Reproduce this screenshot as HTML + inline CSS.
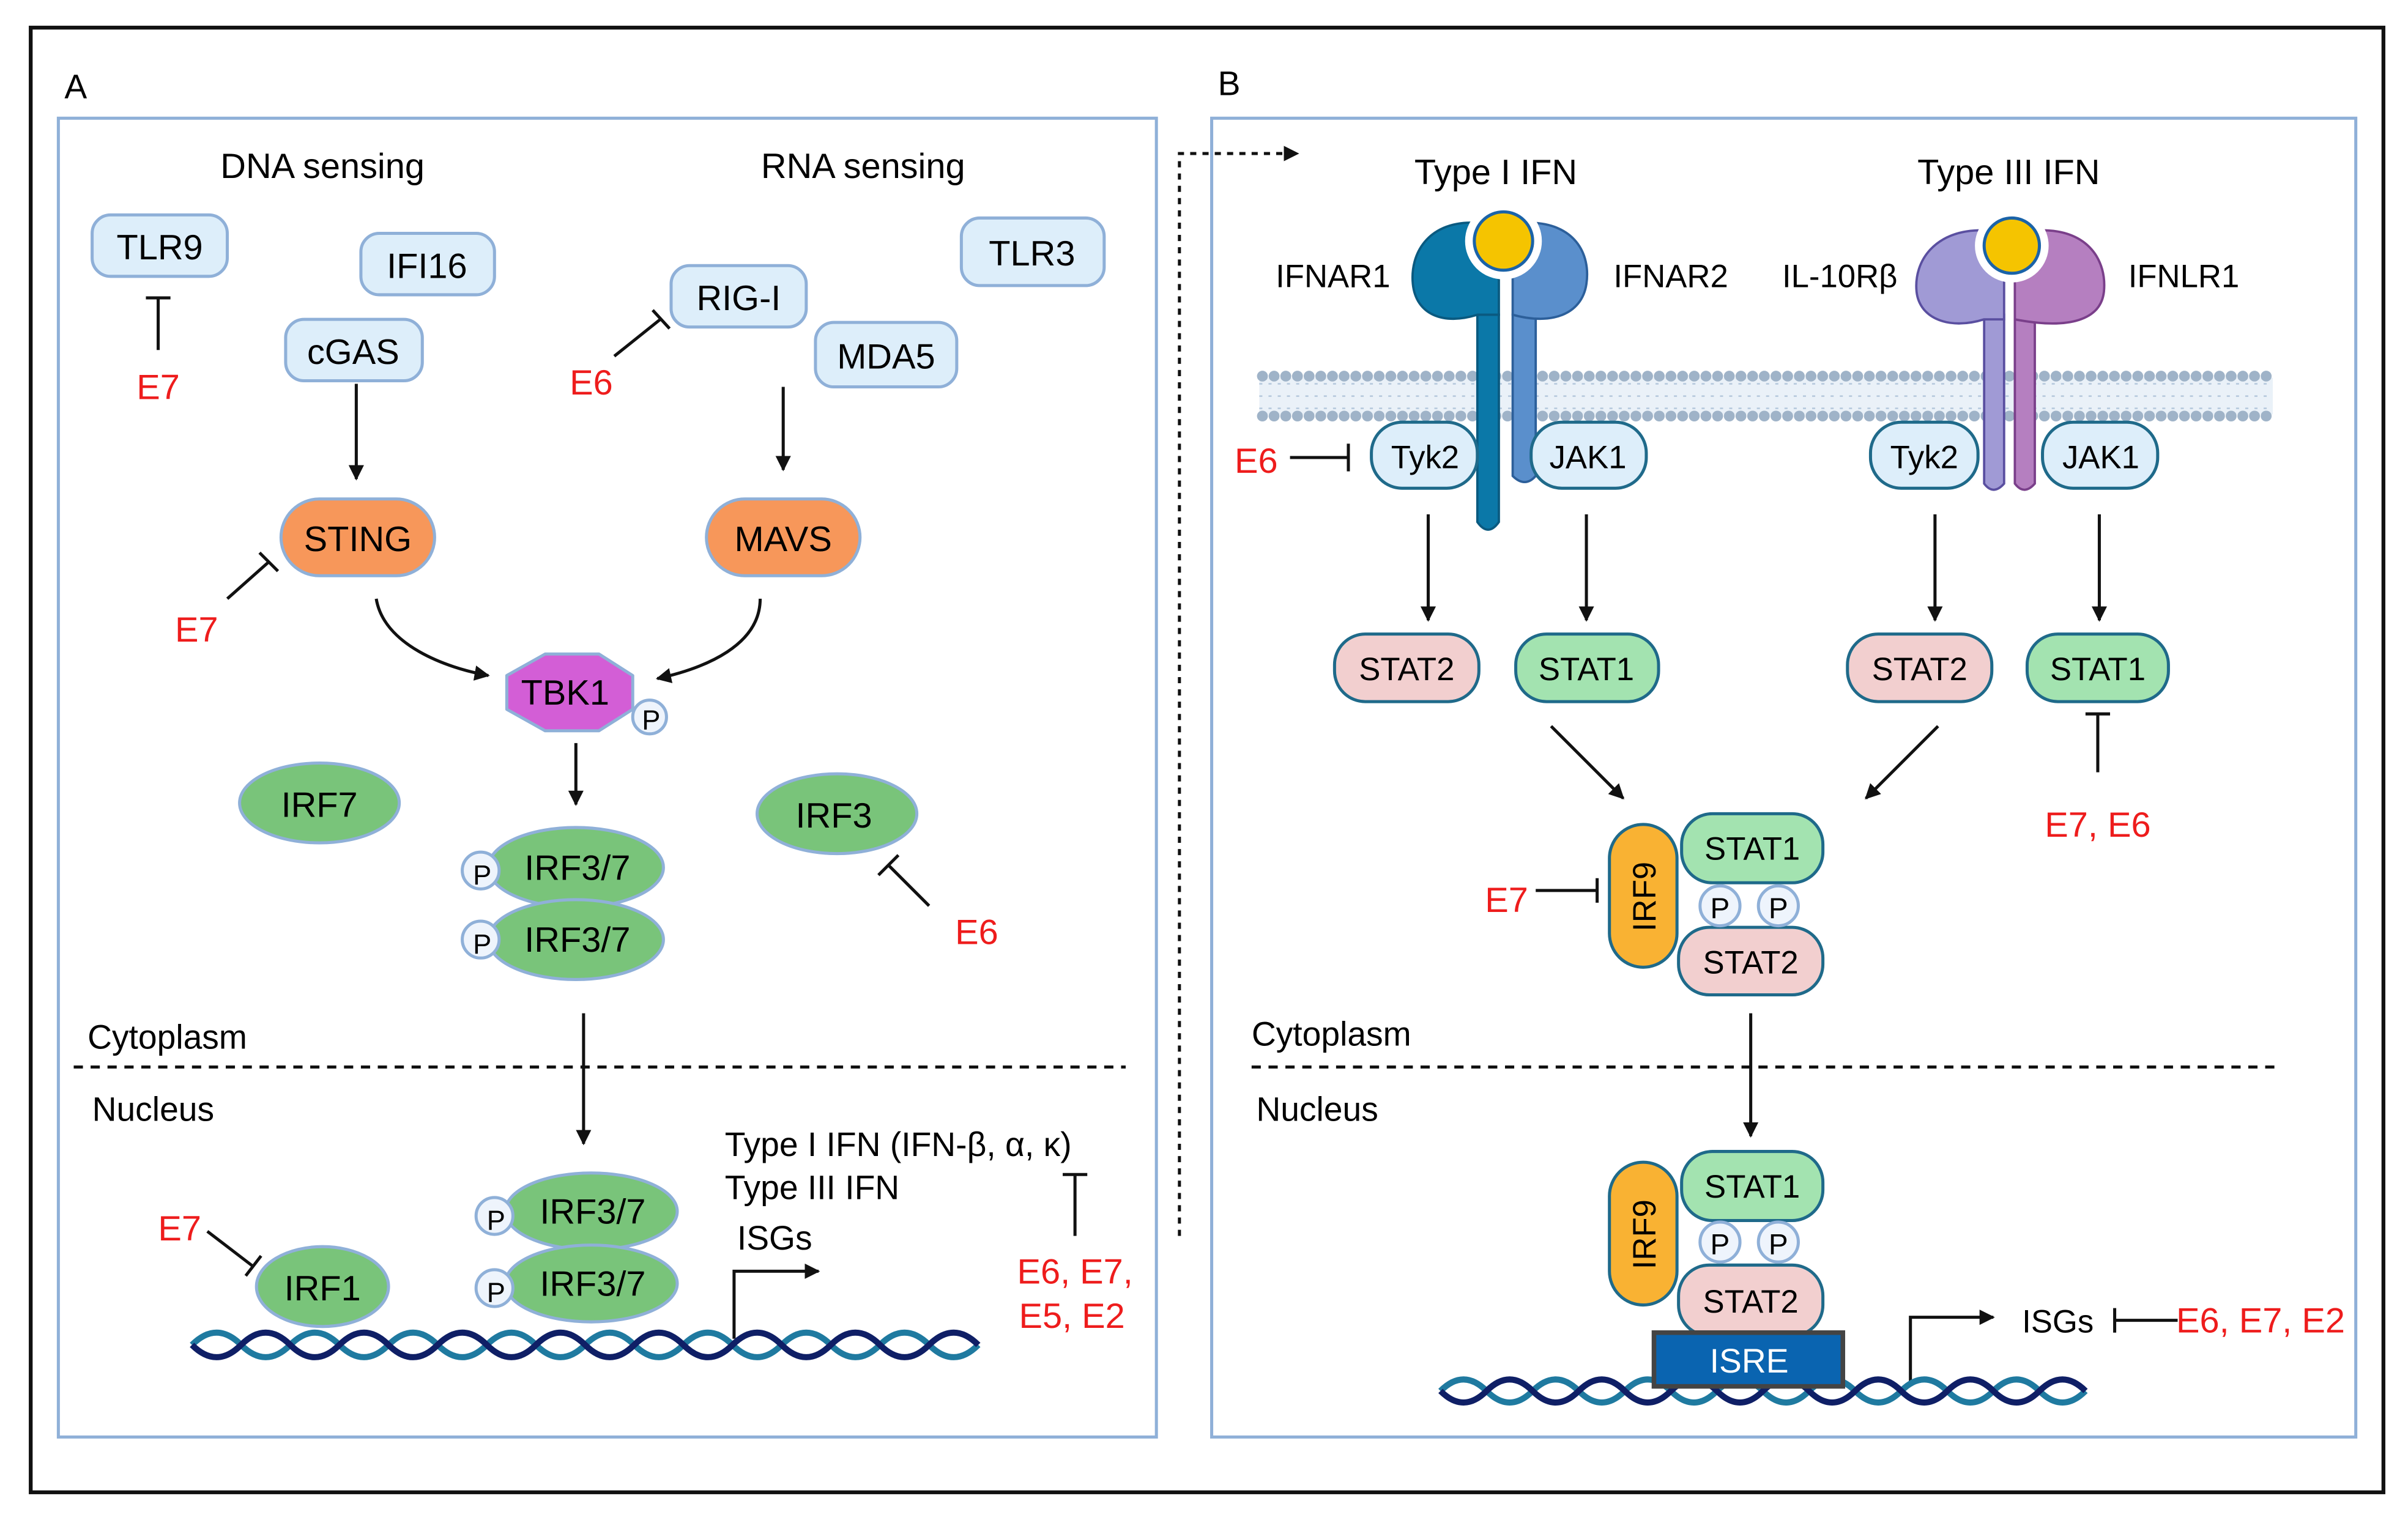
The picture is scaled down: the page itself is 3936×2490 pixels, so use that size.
<!DOCTYPE html>
<html><head><meta charset="utf-8"><style>
html,body{margin:0;padding:0;background:#fff;}
svg{display:block;}
text{font-family:"Liberation Sans",sans-serif;}
</style></head><body>
<svg width="3936" height="2490" viewBox="0 0 1568 992" preserveAspectRatio="none" xmlns="http://www.w3.org/2000/svg">
<defs>
<marker id="ar" viewBox="0 0 10 10" refX="9" refY="5" markerWidth="5" markerHeight="5" orient="auto-start-reverse"><path d="M0,0L10,5L0,10z" fill="#111"/></marker>
</defs>
<rect x="20" y="18" width="1532" height="954" fill="#fff" stroke="#111" stroke-width="2.5"/>
<rect x="38" y="77" width="715" height="859" fill="none" stroke="#8fb0d8" stroke-width="2"/>
<rect x="789" y="77" width="745" height="859" fill="none" stroke="#8fb0d8" stroke-width="2"/>
<text x="42" y="64" font-size="22">A</text>
<text x="793" y="62" font-size="22">B</text>

<g font-size="23" text-anchor="middle">
<text x="210" y="116">DNA sensing</text>
<text x="562" y="116">RNA sensing</text>
</g>
<g fill="#ddeefa" stroke="#8fb0d8" stroke-width="2">
<rect x="60" y="140" width="88" height="40" rx="12"/>
<rect x="235" y="152" width="87" height="40" rx="12"/>
<rect x="186" y="208" width="89" height="40" rx="12"/>
<rect x="437" y="173" width="88" height="40" rx="12"/>
<rect x="531" y="210" width="92" height="42" rx="12"/>
<rect x="626" y="142" width="93" height="44" rx="12"/>
</g>
<g font-size="23" text-anchor="middle">
<text x="104" y="169">TLR9</text>
<text x="278" y="181">IFI16</text>
<text x="230" y="237">cGAS</text>
<text x="481" y="202">RIG-I</text>
<text x="577" y="240">MDA5</text>
<text x="672" y="173">TLR3</text>
</g>
<g stroke="#111" stroke-width="2" fill="none">
<path d="M103,228V194M95,194H111"/>
<path d="M400,232L430,208M425,202L436,214"/>
<path d="M232,250V312" marker-end="url(#ar)"/>
<path d="M510,252V306" marker-end="url(#ar)"/>
<path d="M148,390L175,366M169,360L181,372"/>
<path d="M245,390C250,420 290,435 318,440" marker-end="url(#ar)"/>
<path d="M495,390C495,420 460,435 428,442" marker-end="url(#ar)"/>
<path d="M375,484V524" marker-end="url(#ar)"/>
<path d="M605,590L578,563M572,570L585,557"/>
<path d="M380,660V745" marker-end="url(#ar)"/>
<path d="M135,802L165,825M160,831L170,818"/>
<path d="M478,872V828H533" marker-end="url(#ar)"/>
<path d="M700,805V765M692,765H708"/>
</g>
<g fill="#f7975a" stroke="#8fb0d8" stroke-width="2">
<rect x="183" y="325" width="100" height="50" rx="25"/>
<rect x="460" y="325" width="100" height="50" rx="25"/>
</g>
<path d="M330,440 L355,426 L390,426 L412,440 L412,462 L390,476 L355,476 L330,462Z" fill="#d35ed6" stroke="#8fb0d8" stroke-width="2" stroke-linejoin="round"/>
<g fill="#79c47a" stroke="#8fb0d8" stroke-width="2">
<ellipse cx="208" cy="523" rx="52" ry="26"/>
<ellipse cx="545" cy="530" rx="52" ry="26"/>
<ellipse cx="375" cy="565" rx="57" ry="26"/>
<ellipse cx="375" cy="612" rx="57" ry="26"/>
<ellipse cx="385" cy="789" rx="56" ry="25"/>
<ellipse cx="385" cy="836" rx="56" ry="25"/>
<ellipse cx="210" cy="838" rx="43" ry="26"/>
</g>
<g fill="#eef4fc" stroke="#8fb0d8" stroke-width="2">
<circle cx="423" cy="467" r="11"/>
<circle cx="313" cy="567" r="12"/>
<circle cx="313" cy="612" r="12"/>
<circle cx="322" cy="792" r="12"/>
<circle cx="322" cy="839" r="12"/>
</g>
<g font-size="23" text-anchor="middle">
<text x="233" y="359">STING</text>
<text x="510" y="359">MAVS</text>
<text x="368" y="459">TBK1</text>
<text x="208" y="532">IRF7</text>
<text x="543" y="539">IRF3</text>
<text x="376" y="573">IRF3/7</text>
<text x="376" y="620">IRF3/7</text>
<text x="386" y="797">IRF3/7</text>
<text x="386" y="844">IRF3/7</text>
<text x="210" y="847">IRF1</text>
</g>
<g font-size="18" text-anchor="middle">
<text x="424" y="475">P</text>
<text x="314" y="576">P</text>
<text x="314" y="621">P</text>
<text x="323" y="801">P</text>
<text x="323" y="848">P</text>
</g>
<g font-size="23" fill="#ee1c1c" text-anchor="middle">
<text x="103" y="260">E7</text>
<text x="385" y="257">E6</text>
<text x="128" y="418">E7</text>
<text x="636" y="615">E6</text>
<text x="117" y="808">E7</text>
<text x="700" y="836">E6, E7,</text>
<text x="698" y="865">E5, E2</text>
</g>
<g font-size="22">
<text x="57" y="683">Cytoplasm</text>
<text x="60" y="730">Nucleus</text>
<text x="472" y="753">Type I IFN (IFN-β, α, κ)</text>
<text x="472" y="781">Type III IFN</text>
<text x="480" y="814">ISGs</text>
<text x="815" y="681">Cytoplasm</text>
<text x="818" y="730">Nucleus</text>
</g>
<path d="M48,695H733M815,695H1482" stroke="#111" stroke-width="2" stroke-dasharray="6,5"/>
<g fill="none" stroke-width="4">
<path d="M125,876 q16,-16 32,0 t32,0 t32,0 t32,0 t32,0 t32,0 t32,0 t32,0 t32,0 t32,0 t32,0 t32,0 t32,0 t32,0 t32,0 t32,0" stroke="#1f7aa0"/>
<path d="M125,876 q16,16 32,0 t32,0 t32,0 t32,0 t32,0 t32,0 t32,0 t32,0 t32,0 t32,0 t32,0 t32,0 t32,0 t32,0 t32,0 t32,0" stroke="#0f1f66"/>
</g>
<path d="M768,805V100H845" fill="none" stroke="#111" stroke-width="2" stroke-dasharray="4,4" marker-end="url(#ar)"/>

<g font-size="23" text-anchor="middle">
<text x="974" y="120">Type I IFN</text>
<text x="1308" y="120">Type III IFN</text>
</g>
<g font-size="21" text-anchor="middle">
<text x="868" y="187">IFNAR1</text>
<text x="1088" y="187">IFNAR2</text>
<text x="1198" y="187">IL-10Rβ</text>
<text x="1422" y="187">IFNLR1</text>
</g>
<rect x="820" y="246" width="660" height="24" fill="#eaf1f8"/>
<g stroke="#b5c8dc" stroke-width="1">
<path d="M820,250H1480M820,258H1480M820,266H1480" stroke-dasharray="2,4"/>
</g>
<path d="M822,245H1478M822,271H1478" stroke="#9fb3c8" stroke-width="7" stroke-linecap="round" stroke-dasharray="0.1,7.5"/>
<path d="M962,205 L962,340 Q969,350 976,340 L976,205Z" fill="#0b78a8" stroke="#0a5a80" stroke-width="1.5"/>
<path d="M985,205 L985,310 Q993,318 1000,310 L1000,205Z" fill="#5a8fcc" stroke="#2c5f9a" stroke-width="1.5"/>
<path d="M958,145 C930,145 918,165 920,185 C922,205 940,212 962,205 L976,205 L976,165 Z" fill="#0b78a8" stroke="#0a5a80" stroke-width="1.5"/>
<path d="M995,145 C1025,145 1036,165 1033,185 C1030,205 1010,212 985,205 L985,165 Z" fill="#5a8fcc" stroke="#2c5f9a" stroke-width="1.5"/>
<circle cx="979" cy="157" r="22" fill="#f5c400" stroke="#fff" stroke-width="6"/>
<circle cx="979" cy="157" r="19" fill="none" stroke="#1a63a8" stroke-width="2"/>
<path d="M1292,205 L1292,315 Q1298,323 1305,315 L1305,205Z" fill="#a09ad5" stroke="#5a4fa0" stroke-width="1.5"/>
<path d="M1312,205 L1312,315 Q1318,323 1325,315 L1325,205Z" fill="#b57fc0" stroke="#7a3f8a" stroke-width="1.5"/>
<path d="M1290,150 C1260,150 1246,170 1248,190 C1250,208 1270,215 1292,208 L1305,208 L1305,170 Z" fill="#a09ad5" stroke="#5a4fa0" stroke-width="1.5"/>
<path d="M1330,150 C1360,150 1372,170 1370,190 C1368,208 1348,215 1312,208 L1312,170 Z" fill="#b57fc0" stroke="#7a3f8a" stroke-width="1.5"/>
<circle cx="1310" cy="160" r="21" fill="#f5c400" stroke="#fff" stroke-width="6"/>
<circle cx="1310" cy="160" r="18" fill="none" stroke="#1a63a8" stroke-width="2"/>
<g fill="#ddeefa" stroke="#1f6a8a" stroke-width="2">
<rect x="893" y="275" width="69" height="43" rx="20"/>
<rect x="997" y="275" width="75" height="43" rx="20"/>
<rect x="1218" y="275" width="70" height="43" rx="20"/>
<rect x="1330" y="275" width="75" height="43" rx="20"/>
</g>
<g font-size="21" text-anchor="middle">
<text x="928" y="305">Tyk2</text>
<text x="1034" y="305">JAK1</text>
<text x="1253" y="305">Tyk2</text>
<text x="1368" y="305">JAK1</text>
</g>
<g stroke="#111" stroke-width="2" fill="none">
<path d="M840,298H878M878,289V307"/>
<path d="M930,335V404" marker-end="url(#ar)"/>
<path d="M1033,335V404" marker-end="url(#ar)"/>
<path d="M1260,335V404" marker-end="url(#ar)"/>
<path d="M1367,335V404" marker-end="url(#ar)"/>
<path d="M1366,503V465M1358,465H1374"/>
<path d="M1010,473L1057,520" marker-end="url(#ar)"/>
<path d="M1262,473L1215,520" marker-end="url(#ar)"/>
<path d="M1000,580H1040M1040,572V588"/>
<path d="M1140,660V740" marker-end="url(#ar)"/>
<path d="M1244,903V858H1298" marker-end="url(#ar)"/>
<path d="M1377,860H1418M1377,852V868"/>
</g>
<g stroke="#1f6a8a" stroke-width="2">
<rect x="869" y="413" width="94" height="44" rx="20" fill="#f2cfcf"/>
<rect x="987" y="413" width="93" height="44" rx="20" fill="#a3e3b0"/>
<rect x="1203" y="413" width="94" height="44" rx="20" fill="#f2cfcf"/>
<rect x="1320" y="413" width="92" height="44" rx="20" fill="#a3e3b0"/>
<rect x="1048" y="537" width="44" height="93" rx="22" fill="#f9b233"/>
<rect x="1095" y="530" width="92" height="45" rx="20" fill="#a3e3b0"/>
<rect x="1093" y="604" width="94" height="44" rx="20" fill="#f2cfcf"/>
<rect x="1048" y="757" width="44" height="93" rx="22" fill="#f9b233"/>
<rect x="1095" y="750" width="92" height="45" rx="20" fill="#a3e3b0"/>
<rect x="1093" y="824" width="94" height="46" rx="20" fill="#f2cfcf"/>
</g>
<g fill="#eef4fc" stroke="#8fb0d8" stroke-width="2">
<circle cx="1120" cy="590" r="13"/><circle cx="1158" cy="590" r="13"/>
<circle cx="1120" cy="809" r="13"/><circle cx="1158" cy="809" r="13"/>
</g>
<g font-size="21" text-anchor="middle">
<text x="916" y="443">STAT2</text>
<text x="1033" y="443">STAT1</text>
<text x="1250" y="443">STAT2</text>
<text x="1366" y="443">STAT1</text>
<text x="1141" y="560">STAT1</text>
<text x="1140" y="634">STAT2</text>
<text x="1141" y="780">STAT1</text>
<text x="1140" y="855">STAT2</text>
<text x="1120" y="598" font-size="19">P</text><text x="1158" y="598" font-size="19">P</text>
<text x="1120" y="817" font-size="19">P</text><text x="1158" y="817" font-size="19">P</text>
<text x="1340" y="868">ISGs</text>
<text transform="translate(1070,584) rotate(-90)" y="8">IRF9</text>
<text transform="translate(1070,804) rotate(-90)" y="8">IRF9</text>
</g>
<g font-size="23" fill="#ee1c1c" text-anchor="middle">
<text x="818" y="308">E6</text>
<text x="1366" y="545">E7, E6</text>
<text x="981" y="594">E7</text>
<text x="1472" y="868">E6, E7, E2</text>
</g>
<g fill="none" stroke-width="4">
<path d="M938,906 q15,-15 30,0 t30,0 t30,0 t30,0 t30,0 t30,0 t30,0 t30,0 t30,0 t30,0 t30,0 t30,0 t30,0 t30,0" stroke="#1f7aa0"/>
<path d="M938,906 q15,15 30,0 t30,0 t30,0 t30,0 t30,0 t30,0 t30,0 t30,0 t30,0 t30,0 t30,0 t30,0 t30,0 t30,0" stroke="#0f1f66"/>
</g>
<rect x="1077" y="868" width="123" height="35" fill="#0a64b0" stroke="#444" stroke-width="3"/>
<text x="1139" y="894" font-size="22" fill="#fff" text-anchor="middle">ISRE</text>
</svg>
</body></html>
